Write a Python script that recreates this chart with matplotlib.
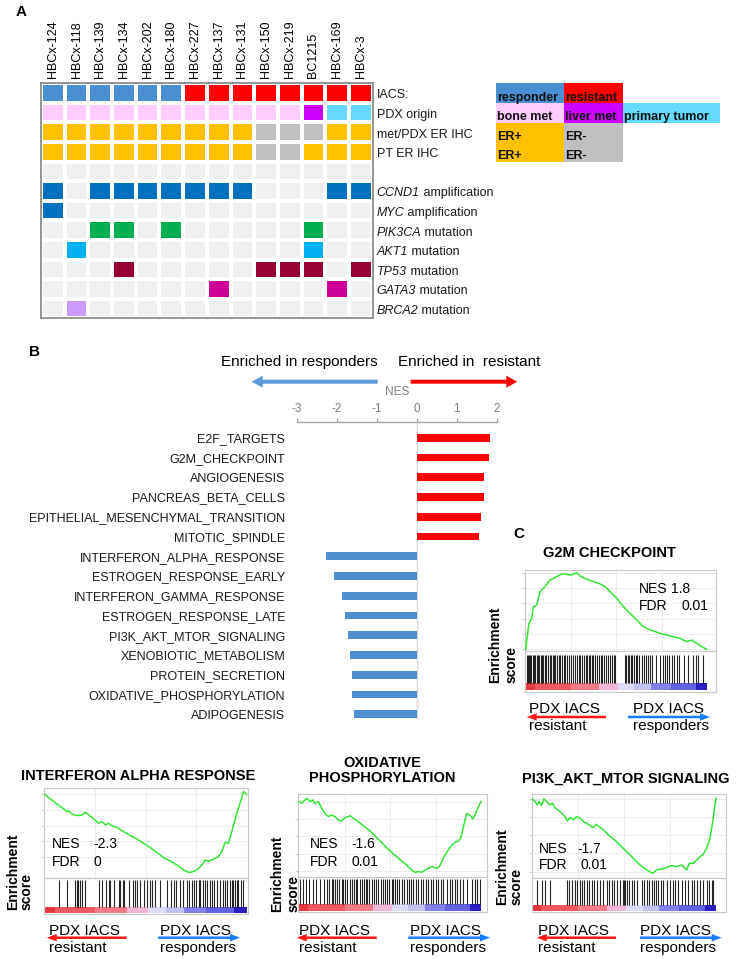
import numpy as np
import matplotlib
matplotlib.use('Agg')
import matplotlib.pyplot as plt
from matplotlib.colors import ListedColormap, BoundaryNorm
from matplotlib.patches import Rectangle, FancyArrow

plt.rcParams['font.family'] = ['Liberation Sans', 'DejaVu Sans']
plt.rcParams['axes.unicode_minus'] = False

W, H = 742, 959

# ---------------- Panel A data ----------------
samples = ['HBCx-124', 'HBCx-118', 'HBCx-139', 'HBCx-134', 'HBCx-202', 'HBCx-180', 'HBCx-227',
           'HBCx-137', 'HBCx-131', 'HBCx-150', 'HBCx-219', 'BC1215', 'HBCx-169', 'HBCx-3']
iacs = ['responder', 'responder', 'responder', 'responder', 'responder', 'responder', 'resistant',
        'resistant', 'resistant', 'resistant', 'resistant', 'resistant', 'resistant', 'resistant']
pdx_origin = ['bone met', 'bone met', 'bone met', 'bone met', 'bone met', 'bone met', 'bone met',
              'bone met', 'bone met', 'bone met', 'bone met', 'liver met', 'primary tumor', 'primary tumor']
met_er = ['ER+', 'ER+', 'ER+', 'ER+', 'ER+', 'ER+', 'ER+', 'ER+', 'ER+', 'ER-', 'ER-', 'ER-', 'ER+', 'ER+']
pt_er = ['ER+', 'ER+', 'ER+', 'ER+', 'ER+', 'ER+', 'ER+', 'ER+', 'ER+', 'ER-', 'ER-', 'ER+', 'ER+', 'ER+']
ccnd1 = [1, 0, 1, 1, 1, 1, 1, 1, 1, 0, 0, 0, 1, 1]
myc = [1, 0, 0, 0, 0, 0, 0, 0, 0, 0, 0, 0, 0, 0]
pik3ca = [0, 0, 1, 1, 0, 1, 0, 0, 0, 0, 0, 1, 0, 0]
akt1 = [0, 1, 0, 0, 0, 0, 0, 0, 0, 0, 0, 1, 0, 0]
tp53 = [0, 0, 0, 1, 0, 0, 0, 0, 0, 1, 1, 1, 0, 1]
gata3 = [0, 0, 0, 0, 0, 0, 0, 1, 0, 0, 0, 0, 1, 0]
brca2 = [0, 1, 0, 0, 0, 0, 0, 0, 0, 0, 0, 0, 0, 0]
gene_names = ['CCND1', 'MYC', 'PIK3CA', 'AKT1', 'TP53', 'GATA3', 'BRCA2']
gene_kinds = ['amplification', 'amplification', 'mutation', 'mutation', 'mutation', 'mutation', 'mutation']
annot_labels = ['IACS:', 'PDX origin', 'met/PDX ER IHC', 'PT ER IHC']

cat_colors = {'empty': '#f0f0f0', 'responder': '#4b8fd3', 'resistant': '#ff0000',
              'bone met': '#ffccff', 'liver met': '#cc00ff', 'primary tumor': '#66d9ff',
              'ER+': '#ffc000', 'ER-': '#bfbfbf', 'CCND1': '#0070c0', 'MYC': '#0070c0',
              'PIK3CA': '#00b050', 'AKT1': '#00b0f0', 'TP53': '#990033', 'GATA3': '#cc0099',
              'BRCA2': '#cc99ff'}

# ---------------- Panel B data ----------------
pathways = ['E2F_TARGETS', 'G2M_CHECKPOINT', 'ANGIOGENESIS', 'PANCREAS_BETA_CELLS',
            'EPITHELIAL_MESENCHYMAL_TRANSITION', 'MITOTIC_SPINDLE', 'INTERFERON_ALPHA_RESPONSE',
            'ESTROGEN_RESPONSE_EARLY', 'INTERFERON_GAMMA_RESPONSE', 'ESTROGEN_RESPONSE_LATE',
            'PI3K_AKT_MTOR_SIGNALING', 'XENOBIOTIC_METABOLISM', 'PROTEIN_SECRETION',
            'OXIDATIVE_PHOSPHORYLATION', 'ADIPOGENESIS']
nes = [1.83, 1.80, 1.675, 1.675, 1.60, 1.55, -2.27, -2.08, -1.86, -1.79, -1.725, -1.68,
       -1.625, -1.625, -1.57]
nes_ticks = [-3, -2, -1, 0, 1, 2]

# ---------------- GSEA data (x = rank percent, y = enrichment score) ----------------
g2m_x = [0, 0.6, 1.8, 3.3, 4.2, 6.1, 7.9, 10.7, 13.4, 17.1, 19.9, 22.7, 25.4, 28.2, 30.0, 33.7,
         37.4, 41.1, 43.8, 46.6, 50.3, 54.0, 57.6, 61.3, 65.0, 67.8, 70.5, 74.2, 77.9, 81.6,
         85.3, 88.9, 91.7, 94.5, 97.2, 100]
g2m_es = [0.0, 0.073, 0.204, 0.243, 0.334, 0.347, 0.452, 0.491, 0.543, 0.569, 0.590, 0.587,
          0.582, 0.600, 0.574, 0.548, 0.530, 0.512, 0.491, 0.452, 0.399, 0.334, 0.282, 0.230,
          0.177, 0.157, 0.144, 0.125, 0.112, 0.099, 0.086, 0.060, 0.073, 0.047, 0.021, 0.0]
g2m_hits = [0.6, 1.1, 1.8, 2.4, 2.9, 3.9, 4.6, 5.3, 6.1, 6.6, 7.6, 8.3, 9.0, 9.8, 10.7, 11.4,
            12.3, 13.3, 14.0, 14.9, 15.7, 16.4, 17.3, 18.2, 19.0, 20.1, 21.0, 21.9, 23.0, 24.1,
            25.0, 26.2, 27.3, 28.2, 29.3, 30.2, 31.1, 32.2, 33.3, 34.1, 35.0, 35.7, 36.6, 37.4,
            38.3, 39.2, 40.3, 41.4, 42.2, 43.1, 44.2, 45.3, 46.4, 47.5, 48.6, 49.5, 54.7, 55.4,
            56.4, 57.1, 58.0, 58.9, 59.9, 60.8, 61.7, 62.8, 64.1, 65.2, 66.3, 67.4, 68.7, 70.0,
            72.0, 74.2, 75.7, 77.0, 78.3, 79.4, 80.7, 82.0, 83.4, 84.7, 87.5, 89.9, 92.3, 93.9,
            95.4, 97.8]

ifna_x = [0, 3.0, 6.3, 9.5, 11.2, 12.0, 13.7, 16.1, 18.6, 20.2, 21.9, 24.3, 26.8, 28.5, 30.1,
          31.7, 33.4, 35.9, 39.1, 42.4, 45.7, 49.0, 52.3, 55.6, 58.9, 62.2, 65.5, 68.8, 71.2,
          73.7, 75.3, 77.0, 78.6, 79.4, 81.1, 83.6, 86.0, 87.7, 89.3, 91.0, 92.6, 94.2, 95.9,
          97.5, 98.4, 100]
ifna_es = [0.0, -0.035, -0.071, -0.103, -0.122, -0.118, -0.141, -0.150, -0.146, -0.127, -0.146,
           -0.174, -0.204, -0.193, -0.216, -0.204, -0.223, -0.235, -0.263, -0.291, -0.315,
           -0.345, -0.376, -0.409, -0.447, -0.470, -0.498, -0.533, -0.550, -0.545, -0.533,
           -0.510, -0.486, -0.463, -0.470, -0.458, -0.439, -0.404, -0.338, -0.345, -0.263,
           -0.181, -0.099, -0.028, 0.019, 0.0]
ifna_hits = [7.1, 11.2, 14.8, 15.8, 16.6, 17.4, 18.6, 20.2, 26.8, 28.5, 30.6, 31.7, 32.6, 34.2,
             36.7, 37.5, 38.8, 39.5, 41.6, 43.8, 44.9, 45.7, 47.4, 49.0, 50.7, 52.0, 53.1, 54.8,
             56.9, 60.5, 62.5, 63.8, 65.1, 67.1, 68.4, 70.4, 71.7, 72.9, 74.0, 75.0, 76.2, 77.0,
             78.3, 79.4, 80.6, 81.6, 82.7, 83.9, 85.2, 86.8, 88.2, 89.3, 90.5, 91.8, 92.6, 93.4,
             94.2, 95.1, 95.9, 97.0, 98.0]

oxphos_x = [0, 1.3, 3.1, 4.4, 5.9, 7.3, 8.6, 10.5, 12.3, 14.1, 16.0, 17.8, 19.6, 21.5, 23.3,
            25.1, 27.0, 27.9, 29.7, 31.6, 34.3, 37.1, 39.8, 42.6, 45.3, 48.1, 50.8, 53.6, 56.3,
            59.1, 61.8, 63.7, 65.5, 67.3, 69.2, 71.0, 72.8, 75.6, 77.1, 78.3, 80.2, 82.0, 83.9,
            85.7, 87.5, 88.8, 90.3, 92.1, 93.9, 95.4, 96.7, 98.2, 99.4, 100]
oxphos_es = [0.000, -0.011, 0.011, 0.021, 0.000, 0.011, -0.011, 0.000, -0.042, -0.074, -0.095,
             -0.085, -0.095, -0.117, -0.123, -0.102, -0.095, -0.089, -0.106, -0.121, -0.144,
             -0.170, -0.195, -0.229, -0.259, -0.293, -0.322, -0.350, -0.377, -0.403, -0.435,
             -0.449, -0.445, -0.449, -0.435, -0.424, -0.413, -0.424, -0.413, -0.382, -0.339,
             -0.307, -0.276, -0.259, -0.250, -0.233, -0.159, -0.074, -0.085, -0.110, -0.085,
             -0.042, -0.011, 0.000]
oxphos_hits = [0.4, 2.2, 3.7, 5.5, 7.3, 9.2, 11.4, 13.6, 15.0, 16.5, 17.8, 18.7, 19.8, 20.9, 22.0,
               23.3, 24.2, 25.1, 26.4, 27.9, 28.8, 30.1, 31.2, 31.9, 33.4, 34.5, 35.6, 36.7, 37.4,
               38.5, 39.8, 41.1, 42.2, 43.5, 44.8, 45.9, 47.2, 48.4, 49.5, 50.8, 51.7, 52.8, 53.9,
               55.0, 56.3, 57.6, 59.1, 60.6, 61.3, 62.8, 64.2, 65.5, 66.8, 68.3, 69.5, 71.0, 72.3,
               73.8, 75.2, 76.5, 77.8, 79.3, 81.1, 82.9, 83.9, 85.7, 87.0, 88.4, 90.3, 92.1, 94.9,
               96.7, 98.0, 99.4]

pi3k_x = [0, 1.5, 2.7, 3.8, 5.1, 6.4, 7.8, 9.6, 11.1, 12.3, 14.2, 16.0, 17.8, 19.1, 20.5, 22.3,
          24.1, 26.0, 27.8, 29.6, 31.4, 33.2, 34.7, 36.5, 38.7, 41.4, 44.1, 46.8, 49.5, 52.3,
          55.0, 57.7, 60.4, 63.2, 65.5, 67.7, 70.4, 72.2, 74.0, 75.9, 78.6, 81.3, 84.0, 85.5,
          87.7, 89.5, 91.3, 93.1, 94.9, 96.7, 98.2, 99.1, 100]
pi3k_es = [0.000, -0.016, -0.036, -0.016, -0.040, 0.000, -0.016, -0.036, -0.026, -0.053, -0.067,
           -0.087, -0.107, -0.133, -0.113, -0.127, -0.107, -0.117, -0.137, -0.147, -0.162,
           -0.174, -0.154, -0.168, -0.188, -0.218, -0.242, -0.269, -0.299, -0.329, -0.360,
           -0.390, -0.416, -0.436, -0.450, -0.430, -0.424, -0.420, -0.410, -0.404, -0.410,
           -0.400, -0.430, -0.390, -0.390, -0.370, -0.349, -0.335, -0.299, -0.238, -0.137,
           -0.057, 0.004]
pi3k_hits = [2.4, 5.1, 6.9, 9.6, 18.7, 20.1, 21.4, 23.2, 24.5, 26.0, 26.9, 28.1, 29.6, 31.0, 32.3,
             33.6, 35.0, 36.8, 38.7, 40.5, 41.9, 43.2, 44.5, 45.9, 47.7, 49.2, 49.9, 50.6, 51.4,
             52.8, 54.1, 55.4, 56.8, 59.5, 60.8, 62.3, 63.7, 65.0, 66.2, 67.3, 68.6, 69.9, 71.3,
             73.1, 74.9, 76.4, 77.7, 79.5, 81.3, 83.1, 84.9, 86.7, 88.0, 89.5, 91.3, 93.1, 94.9,
             96.4, 97.6, 98.5]

gsea_titles = ['G2M CHECKPOINT', 'INTERFERON ALPHA RESPONSE', 'OXIDATIVE\nPHOSPHORYLATION',
               'PI3K_AKT_MTOR SIGNALING']
gsea_nes = ['1.8', '-2.3', '-1.6', '-1.7']
gsea_fdr = ['0.01', '0', '0.01', '0.01']

strip_starts = [0, 5, 25, 40.6, 51.2, 60, 69.2, 80, 93.8]
strip_ends = [5, 25, 40.6, 51.2, 60, 69.2, 80, 93.8, 100]
strip_colors = ['#e4393f', '#ef5a60', '#f27b86', '#f2b6d6', '#dcdcf6', '#c3c3f2', '#8282ea',
                '#6262de', '#2b1ec2']

# ---------------- figure ----------------
fig = plt.figure(figsize=(W / 100, H / 100), dpi=100)


def px_rect(x0, y0, x1, y1):
    return [x0 / W, 1 - y1 / H, (x1 - x0) / W, (y1 - y0) / H]


# ---- Panel A heatmap ----
cats = list(cat_colors.keys())
code = {c: i for i, c in enumerate(cats)}
rows = [iacs, pdx_origin, met_er, pt_er, ['empty'] * len(samples)]
for g, vals in zip(gene_names, [ccnd1, myc, pik3ca, akt1, tp53, gata3, brca2]):
    rows.append([g if v else 'empty' for v in vals])
M = np.array([[code[c] for c in r] for r in rows])
cmap = ListedColormap([cat_colors[c] for c in cats])
norm = BoundaryNorm(np.arange(len(cats) + 1) - 0.5, len(cats))

ax_h = fig.add_axes(px_rect(41, 83.3, 372.7, 318.3))
ax_h.pcolormesh(np.arange(len(samples) + 1), np.arange(len(rows) + 1), M, cmap=cmap, norm=norm,
                edgecolors='white', linewidth=1.5)
ax_h.set_xlim(0, len(samples))
ax_h.set_ylim(len(rows), 0)
ax_h.xaxis.tick_top()
ax_h.set_xticks(np.arange(len(samples)) + 0.5, samples, rotation=90, fontsize=9)
ax_h.tick_params(axis='x', length=0, pad=3.6)
ax_h.set_yticks([])
for s in ax_h.spines.values():
    s.set_color('#8c8c8c')
    s.set_linewidth(1.3)
for i, lab in enumerate(annot_labels):
    ax_h.text(len(samples) + 0.17, i + 0.62, lab, ha='left', va='center', fontsize=9,
              color='#1a1a1a')
for j, (g, k) in enumerate(zip(gene_names, gene_kinds)):
    i = len(annot_labels) + 1 + j
    t1 = ax_h.text(len(samples) + 0.17, i + 0.62, g, ha='left', va='center', fontsize=9,
                   fontstyle='italic', color='#1a1a1a')
    ax_h.annotate(' ' + k, xy=(1, 0), xycoords=t1, ha='left', va='bottom', fontsize=9,
                  color='#1a1a1a')

# ---- Panel B bars ----
ax_b = fig.add_axes(px_rect(296.7, 421.7, 496.7, 720))
yy = np.arange(len(pathways))
bar_cols = ['#ff0000' if v > 0 else '#4f8fd0' for v in nes]
ax_b.barh(yy, nes, height=0.4, color=bar_cols, zorder=2)
ax_b.axvline(0, color='#d9d9d9', lw=1, zorder=1)
ax_b.set_xlim(-3, 2)
ax_b.set_ylim(14.29, -0.81)
ax_b.xaxis.tick_top()
ax_b.set_xticks(nes_ticks)
ax_b.tick_params(axis='x', colors='#a6a6a6', labelcolor='#7f7f7f', labelsize=8.5, length=3,
                 width=1, pad=1.5)
ax_b.set_yticks(yy, pathways)
ax_b.tick_params(axis='y', length=0, pad=8.4, labelsize=9, labelcolor='#1a1a1a')
for k in ['bottom', 'left', 'right']:
    ax_b.spines[k].set_visible(False)
ax_b.spines['top'].set_color('#a6a6a6')
ax_b.spines['top'].set_linewidth(1)
ax_b.patch.set_alpha(0)


# ---- GSEA panels ----
def gsea_panel(es_box, bc_box, xlim, ylim, xs, es, hits, strip_lo, strip_hi, bar_hi, ygrid):
    ax = fig.add_axes(px_rect(*es_box))
    ax.plot(np.array(xs) / 100, es, color='#33e633', lw=1.1, zorder=3)
    ax.set_xlim(xlim)
    ax.set_ylim(ylim)
    ax.set_yticks(ygrid)
    ax.set_xticks([0.25, 0.5, 0.75])
    ax.grid(True, color='#e9e9e9', lw=0.6)
    ax.tick_params(labelleft=False, labelbottom=False, left=True, bottom=False, length=2,
                   color='#cccccc')
    for s in ax.spines.values():
        s.set_color('#c8c8c8')
        s.set_linewidth(0.8)
    ab = fig.add_axes(px_rect(*bc_box))
    ab.set_xlim(xlim)
    ab.set_ylim(0, 1)
    ab.vlines(np.array(hits) / 100, strip_hi, bar_hi, color='black', lw=0.8, alpha=0.85)
    ab.broken_barh([(s / 100, (e - s) / 100) for s, e in zip(strip_starts, strip_ends)],
                   (strip_lo, strip_hi - strip_lo), facecolors=strip_colors)
    ab.set_xticks([])
    ab.set_yticks([])
    for s in ab.spines.values():
        s.set_color('#c8c8c8')
        s.set_linewidth(0.8)


neg_grid = [0, -0.11, -0.22, -0.33, -0.44]
gsea_panel((525, 570, 716, 650.7), (525, 650.7, 716, 692.3), (-0.004, 1.051), (-0.0104, 0.621),
           g2m_x, g2m_es, g2m_hits, 0.055, 0.23, 0.9, [0, 0.12, 0.24, 0.36, 0.48, 0.60])
gsea_panel((44, 788.3, 248.3, 877.7), (44, 877.7, 248.3, 914.3), (-0.003, 1.008), (-0.5875, 0.042),
           ifna_x, ifna_es, ifna_hits, 0.03, 0.21, 0.95, neg_grid)
gsea_panel((298.3, 794.3, 486.7, 876.7), (298.3, 876.7, 486.7, 911.7), (-0.0055, 1.031),
           (-0.477, 0.0466), oxphos_x, oxphos_es, oxphos_hits, 0.03, 0.21, 0.93, neg_grid)
gsea_panel((531.7, 794.3, 726, 877.7), (531.7, 877.7, 726, 912.3), (-0.003, 1.054), (-0.477, 0.028),
           pi3k_x, pi3k_es, pi3k_hits, 0.03, 0.21, 0.93, neg_grid)

# ---- overlay for annotations (pixel coordinates) ----
ov = fig.add_axes([0, 0, 1, 1])
ov.set_xlim(0, W)
ov.set_ylim(H, 0)
ov.axis('off')

# panel letters
for lab, (x, y) in zip(['A', 'B', 'C'], [(20.8, 11.7), (34.3, 352.3), (519, 533.5)]):
    ov.text(x, y, lab, fontsize=11, fontweight='bold', ha='center', va='center')

# legend table of panel A
legend_cells = [
    (495.7, 83.3, 564, 103.3, cat_colors['responder'], 'responder'),
    (564, 83.3, 623.3, 103.3, cat_colors['resistant'], 'resistant'),
    (495.7, 103.3, 564, 122.7, cat_colors['bone met'], 'bone met'),
    (564, 103.3, 623.3, 122.7, cat_colors['liver met'], 'liver met'),
    (623.3, 103.3, 720, 122.7, cat_colors['primary tumor'], 'primary tumor'),
    (495.7, 122.7, 564, 161.7, cat_colors['ER+'], None),
    (564, 122.7, 623.3, 161.7, cat_colors['ER-'], None),
]
for x0, y0, x1, y1, c, t in legend_cells:
    ov.add_patch(Rectangle((x0, y0), x1 - x0, y1 - y0, facecolor=c, edgecolor='none'))
    if t:
        ov.text(x0 + 1.2, y1 - 2.4, t, fontsize=9, fontweight='bold', ha='left', va='baseline',
                color='#111111')
for yb in [139.7, 159.3]:
    ov.text(496.9, yb, 'ER+', fontsize=9, fontweight='bold', ha='left', va='baseline', color='#111111')
    ov.text(565.2, yb, 'ER-', fontsize=9, fontweight='bold', ha='left', va='baseline', color='#111111')

# panel B header
ov.text(299, 361.7, 'Enriched in responders', fontsize=11, ha='center', va='center')
ov.text(397.7, 361.7, 'Enriched in  resistant', fontsize=11, ha='left', va='center')
ov.add_patch(FancyArrow(377.7, 381.7, 251.7 - 377.7, 0, width=4, head_width=12, head_length=11,
                        length_includes_head=True, color='#5b9bd5', lw=0))
ov.add_patch(FancyArrow(410.7, 381.7, 517.3 - 410.7, 0, width=4, head_width=12, head_length=11,
                        length_includes_head=True, color='#ff0000', lw=0))
ov.text(396.7, 391.7, 'NES', fontsize=8.5, color='#7f7f7f', ha='center', va='center')

# GSEA annotations
gsea_layout = [
    dict(title=(609, 553), nes=(639.3, 589.3), nesv=670.7, fdr=606, fdrv=681, ex=495, sx=512,
         eb=683.3, red=(606, 526.7), blue=(628, 710), ay=717, lx=529, rx=633, t1=713.3, t2=730),
    dict(title=(138.3, 775.7), nes=(51.7, 844.3), nesv=93.3, fdr=862.3, fdrv=94, ex=13.3, sx=26.7,
         eb=910, red=(126.7, 46.7), blue=(158.3, 240), ay=937.7, lx=49.3, rx=160, t1=935, t2=951.7),
    dict(title=(382, 770.5), nes=(310, 844.3), nesv=351.7, fdr=862.3, fdrv=351.7, ex=276.7, sx=293.3,
         eb=911.7, red=(376.7, 296.7), blue=(408.3, 490), ay=937.7, lx=299.3, rx=410, t1=935, t2=951.7),
    dict(title=(625.8, 779), nes=(539.3, 849), nesv=577.7, fdr=865, fdrv=580.7, ex=501.7, sx=516.7,
         eb=905, red=(616, 536.7), blue=(640, 721.7), ay=937.7, lx=538.3, rx=640, t1=935, t2=951.7),
]
for L, title, nv, fv in zip(gsea_layout, gsea_titles, gsea_nes, gsea_fdr):
    ov.text(L['title'][0], L['title'][1], title, fontsize=10.5, fontweight='bold', ha='center',
            va='center', linespacing=1.15)
    ov.text(L['nes'][0], L['nes'][1], 'NES', fontsize=10, ha='left', va='center')
    ov.text(L['nesv'], L['nes'][1], nv, fontsize=10, ha='left', va='center')
    ov.text(L['nes'][0], L['fdr'], 'FDR', fontsize=10, ha='left', va='center')
    ov.text(L['fdrv'], L['fdr'], fv, fontsize=10, ha='left', va='center')
    ov.text(L['ex'], L['eb'], 'Enrichment', fontsize=10, fontweight='bold', rotation=90,
            ha='center', va='bottom')
    ov.text(L['sx'], L['eb'], 'score', fontsize=10, fontweight='bold', rotation=90,
            ha='center', va='bottom')
    r0, r1 = L['red']
    b0, b1 = L['blue']
    ov.add_patch(FancyArrow(r0, L['ay'], r1 - r0, 0, width=2.5, head_width=7.5, head_length=10,
                            length_includes_head=True, color='#ff1a1a', lw=0))
    ov.add_patch(FancyArrow(b0, L['ay'], b1 - b0, 0, width=2.5, head_width=7.5, head_length=10,
                            length_includes_head=True, color='#1a7cff', lw=0))
    ov.text(L['lx'], L['t1'], 'PDX IACS', fontsize=11, ha='left', va='baseline')
    ov.text(L['lx'], L['t2'], 'resistant', fontsize=11, ha='left', va='baseline')
    ov.text(L['rx'], L['t1'], 'PDX IACS', fontsize=11, ha='left', va='baseline')
    ov.text(L['rx'], L['t2'], 'responders', fontsize=11, ha='left', va='baseline')

fig.savefig('out.png', dpi=100)
